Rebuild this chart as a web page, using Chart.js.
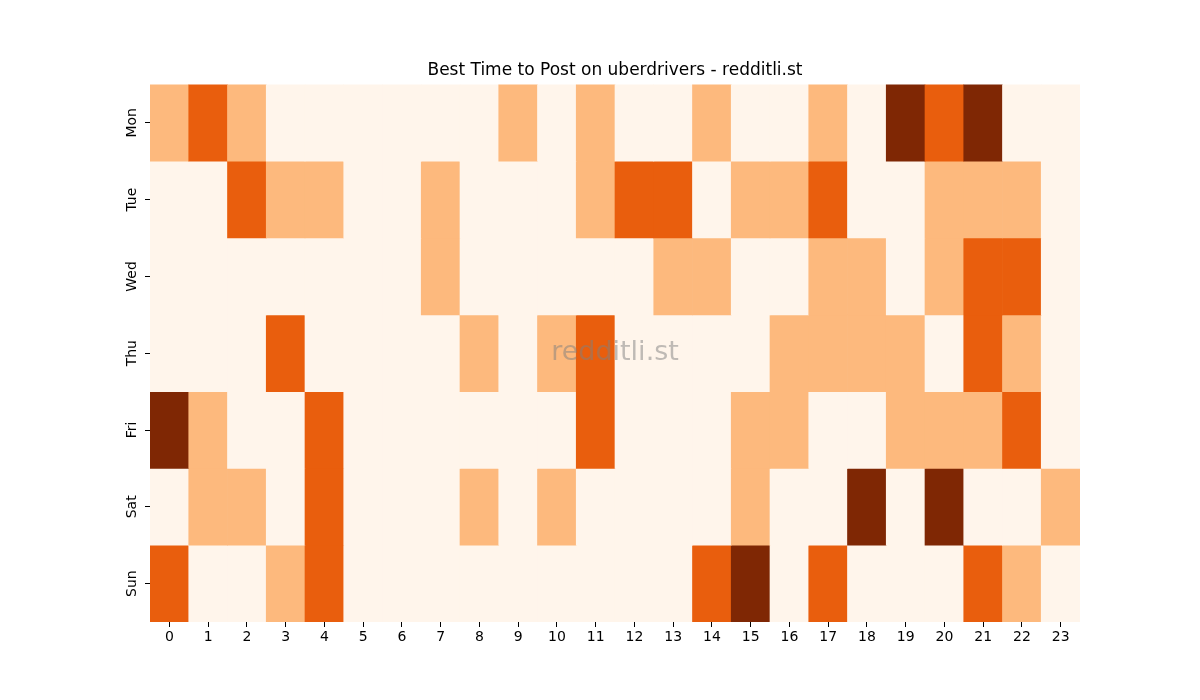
<!DOCTYPE html>
<html>
<head>
<meta charset="utf-8">
<script src="https://cdn.jsdelivr.net/npm/chart.js@4/dist/chart.umd.min.js"></script>
<style>
  html, body { margin: 0; padding: 0; background: #fff; }
  #wrap { width: 1200px; height: 700px; }
</style>
</head>
<body>
<div id="wrap"><canvas id="heat"></canvas></div>
<script>
const HOURS = ['0','1','2','3','4','5','6','7','8','9','10','11','12','13','14','15','16','17','18','19','20','21','22','23'];
const DAYS = ['Mon', 'Tue', 'Wed', 'Thu', 'Fri', 'Sat', 'Sun'];

// activity level per hour (0 = none .. 3 = best)
const mon = [1,2,1,0,0,0,0,0,0,1,0,1,0,0,1,0,0,1,0,3,2,3,0,0];
const tue = [0,0,2,1,1,0,0,1,0,0,0,1,2,2,0,1,1,2,0,0,1,1,1,0];
const wed = [0,0,0,0,0,0,0,1,0,0,0,0,0,1,1,0,0,1,1,0,1,2,2,0];
const thu = [0,0,0,2,0,0,0,0,1,0,1,2,0,0,0,0,1,1,1,1,0,2,1,0];
const fri = [3,1,0,0,2,0,0,0,0,0,0,2,0,0,0,1,1,0,0,1,1,1,2,0];
const sat = [0,1,1,0,2,0,0,0,1,0,1,0,0,0,0,1,0,0,3,0,3,0,0,1];
const sun = [2,0,0,1,2,0,0,0,0,0,0,0,0,0,2,3,0,2,0,0,0,2,1,0];

const LEVELS = [mon, tue, wed, thu, fri, sat, sun];
const PALETTE = ['#fff5eb', '#fdb97d', '#e95e0d', '#7f2704'];

var datasets = LEVELS.map(function (row, r) {
    return {
        label: DAYS[r],
        data: row.map(function () { return [r, r + 1]; }),
        backgroundColor: row.map(function (v) { return PALETTE[v]; }),
        borderWidth: 0,
        grouped: false,
        barPercentage: 1.0,
        categoryPercentage: 1.0
    };
});

// faint site watermark in the middle of the plot
const watermark = {
    id: 'watermark',
    afterDatasetsDraw(chart) {
        const ctx = chart.ctx;
        const a = chart.chartArea;
        ctx.save();
        ctx.font = '27px "DejaVu Sans"';
        ctx.fillStyle = 'rgba(128,128,128,0.5)';
        ctx.textAlign = 'center';
        ctx.textBaseline = 'middle';
        ctx.fillText('redditli.st', (a.left + a.right) / 2, (a.top + a.bottom) / 2);
        ctx.restore();
    }
};

Chart.defaults.font.family = '"DejaVu Sans", sans-serif';
Chart.defaults.color = '#000';

var heatChart = new Chart(document.getElementById('heat'), {
    type: 'bar',
    data: { labels: HOURS, datasets: datasets },
    plugins: [watermark],
    options: {
        responsive: true,
        maintainAspectRatio: false,
        animation: false,
        layout: { padding: { top: 60, right: 120, bottom: 0, left: 0 } },
        plugins: {
            legend: { display: false },
            tooltip: { enabled: false },
            title: {
                display: true,
                fullSize: false,   // centre over the plot, not the whole canvas
                text: 'Best Time to Post on uberdrivers - redditli.st',
                font: { size: 17, weight: 'normal' },
                color: '#000',
                padding: { top: 0, bottom: 4 }
            }
        },
        scales: {
            x: {
                type: 'category',
                offset: true,
                grid: { display: true, drawOnChartArea: false, drawTicks: true, tickLength: 5, tickColor: '#000', offset: false },
                border: { display: false },
                ticks: { font: { size: 14 }, padding: 2, maxRotation: 0 },
                afterFit: function (scale) { scale.height = 700 - 622; }
            },
            y: {
                type: 'linear',
                min: 0,
                max: 7,
                reverse: true,
                grid: { display: true, drawOnChartArea: false, drawTicks: true, tickLength: 5, tickColor: '#000' },
                border: { display: false },
                afterBuildTicks: function (scale) {
                    scale.ticks = DAYS.map(function (d, i) { return { value: i + 0.5 }; });
                },
                ticks: {
                    font: { size: 14 },
                    padding: -3,
                    crossAlign: 'center',
                    minRotation: 90,
                    maxRotation: 90,
                    callback: function (value) { return DAYS[Math.floor(value)]; }
                },
                afterFit: function (scale) { scale.width = 150; }
            }
        }
    }
});
</script>
</body>
</html>
